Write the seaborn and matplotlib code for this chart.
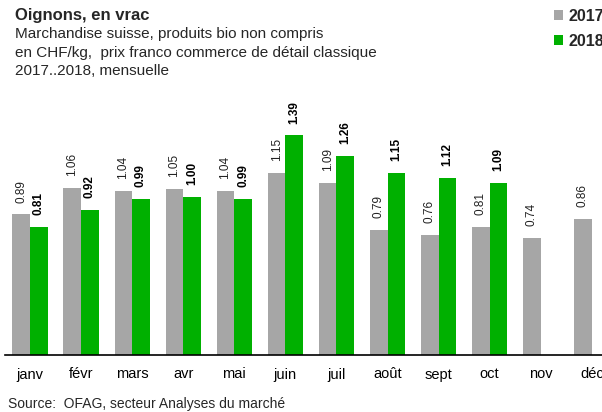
import matplotlib
matplotlib.use("Agg")
import matplotlib.pyplot as plt
import seaborn as sns
import pandas as pd
import numpy as np

sns.set_theme(style="white")
plt.rcParams["font.family"] = ["Liberation Sans", "DejaVu Sans"]

months = ["janv", "févr", "mars", "avr", "mai", "juin", "juil", "août",
          "sept", "oct", "nov", "déc"]
prix_2017 = [0.89, 1.06, 1.04, 1.05, 1.04, 1.15, 1.09, 0.79, 0.76, 0.81, 0.74, 0.86]
prix_2018 = [0.81, 0.92, 0.99, 1.00, 0.99, 1.39, 1.26, 1.15, 1.12, 1.09, np.nan, np.nan]
years = ["2017", "2018"]
colors = {"2017": "#A6A6A6", "2018": "#00B000"}

df = pd.DataFrame({
    "mois": months * 2,
    "annee": [years[0]] * 12 + [years[1]] * 12,
    "prix": prix_2017 + prix_2018,
})

fig = plt.figure(figsize=(6.02, 4.12), dpi=100)
# axes run past the right edge, like the cropped original
ax = fig.add_axes([4.5 / 602, 57 / 412, 597.5 / 602, 260 / 412])
sns.barplot(data=df, x="mois", y="prix", hue="annee", palette=colors,
            order=months, hue_order=years, width=0.69, saturation=1,
            errorbar=None, ax=ax, legend=True, linewidth=0)

for cont, yr in zip(ax.containers, years):
    ax.bar_label(cont, fmt="%.2f", rotation=90, padding=8.5, fontsize=8.5,
                 color="#222222" if yr == "2017" else "black",
                 fontweight="normal" if yr == "2017" else "bold")

ax.set_ylim(0, 260 / 158)
ax.set_xlim(-0.5, 11.2)
ax.set_xlabel("")
ax.set_ylabel("")
ax.set_yticks([])
for s in ["left", "right", "top"]:
    ax.spines[s].set_visible(False)
ax.spines["bottom"].set_color("black")
ax.spines["bottom"].set_linewidth(1.2)
ax.tick_params(axis="x", length=0, pad=9, labelsize=10.5, colors="black")

handles, labels = ax.get_legend_handles_labels()
ax.legend(handles, labels, loc="upper left", bbox_to_anchor=(554 / 602, 1 - 9 / 412),
          bbox_transform=fig.transFigure, frameon=False, handlelength=0.58,
          handleheight=0.58, handletextpad=0.35, labelspacing=0.62,
          borderpad=0, borderaxespad=0,
          prop={"weight": "bold", "size": 11.5})

fig.text(15 / 602, 1 - 8 / 412, "Oignons, en vrac", fontsize=12, fontweight="bold",
         va="top", ha="left")
fig.text(15 / 602, 1 - 27 / 412,
         "Marchandise suisse, produits bio non compris\n"
         "en CHF/kg,  prix franco commerce de détail classique\n"
         "2017..2018, mensuelle",
         fontsize=11, va="top", ha="left", linespacing=1.42)
fig.text(8 / 602, 1 - 397 / 412, "Source:  OFAG, secteur Analyses du marché",
         fontsize=10, va="top", ha="left")

fig.savefig("out.png", dpi=100)
